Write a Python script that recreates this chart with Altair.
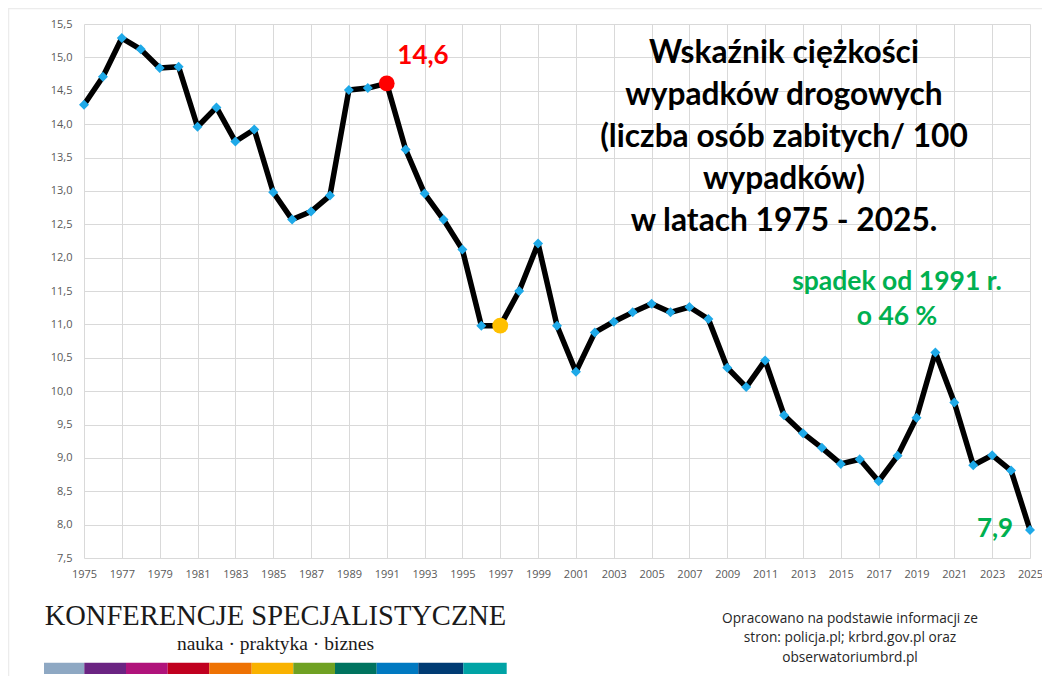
import altair as alt
import pandas as pd

years = list(range(1975, 2026))
values = [
    14.29, 14.71, 15.29, 15.12, 14.84, 14.86, 13.96, 14.25, 13.74, 13.92,
    12.98, 12.57, 12.69, 12.93, 14.51, 14.54, 14.61, 13.62, 12.96, 12.57,
    12.12, 10.98, 10.98, 11.50, 12.21, 10.98, 10.29, 10.88, 11.04, 11.18,
    11.31, 11.18, 11.26, 11.08, 10.35, 10.06, 10.46, 9.64, 9.37, 9.15,
    8.91, 8.98, 8.65, 9.03, 9.60, 10.58, 9.83, 8.89, 9.04, 8.81,
    7.92,
]
highlight_years = [1991, 1997]
highlight_colors = ["#ff0000", "#ffc000"]
x_ticks = list(range(1975, 2026, 2))
y_ticks = [7.5 + 0.5 * i for i in range(17)]

title_lines = [
    "Wskaźnik ciężkości",
    "wypadków drogowych",
    "(liczba osób zabitych/ 100",
    "wypadków)",
    "w latach 1975 - 2025.",
]
drop_lines = ["spadek od 1991 r.", "o 46 %"]
source_lines = [
    "Opracowano na podstawie informacji ze",
    "stron: policja.pl; krbrd.gov.pl oraz",
    "obserwatoriumbrd.pl",
]
logo_title = "KONFERENCJE SPECJALISTYCZNE"
logo_sub = "nauka · praktyka · biznes"
logo_colors = ["#8ea8c3", "#6b2482", "#b0137b", "#c0001f", "#ee7203",
               "#f9b200", "#6fa123", "#00735f", "#0079c1", "#003b73", "#00a3a5"]

df = pd.DataFrame({"year": years, "value": values})
hl = df[df["year"].isin(highlight_years)].copy()
hl["color"] = highlight_colors

W, H = 946, 534

xs = alt.X("year:Q",
           scale=alt.Scale(domain=[1975, 2025], nice=False, zero=False),
           axis=alt.Axis(values=x_ticks, title=None, format="d", grid=True,
                         gridColor="#d9d9d9", gridWidth=1, ticks=False, tickSize=0,
                         domain=False, labelColor="#595959", labelFont="Open Sans",
                         labelFontSize=11, labelPadding=10, labelFlush=False,
                         labelOverlap=False))
ys = alt.Y("value:Q",
           scale=alt.Scale(domain=[7.5, 15.5], nice=False, zero=False),
           axis=alt.Axis(values=y_ticks, title=None, grid=True,
                         gridColor="#d9d9d9", gridWidth=1, ticks=False, tickSize=0,
                         domain=False, labelColor="#595959", labelFont="Open Sans",
                         labelFontSize=11, labelPadding=12,
                         labelExpr="replace(format(datum.value, '.1f'), '.', ',')"))

base = alt.Chart(df)
line = base.mark_line(color="black", strokeWidth=5.5, strokeJoin="round").encode(x=xs, y=ys)
pts = base.mark_point(shape="diamond", filled=True, size=100, color="#1ea9e8", opacity=1).encode(x=xs, y=ys)
hpts = alt.Chart(hl).mark_point(shape="circle", filled=True, size=250, opacity=1).encode(
    x=xs, y=ys, color=alt.Color("color:N", scale=None))

one = pd.DataFrame({"a": [0]})


def txt(text, x, y, size, color="black", bold=True, font="Lato", align="center",
        lh=None, baseline="alphabetic"):
    kw = dict(text=text, fontSize=size, color=color, font=font, align=align,
              baseline=baseline, fontWeight="bold" if bold else "normal")
    if lh is not None:
        kw["lineHeight"] = lh
    return alt.Chart(one).mark_text(**kw).encode(x=alt.value(x), y=alt.value(y))


layers = [line, pts, hpts]
layers.append(txt(title_lines, 700, 39, 31.7, lh=42))
layers.append(txt("14,6", 339, 40, 26, color="#ff0000"))
layers.append(txt(drop_lines, 813, 266, 26.5, color="#00b050", lh=35))
layers.append(txt("7,9", 911, 513, 26, color="#00b050"))
layers.append(txt(logo_title, 191.5, 601, 28.5, font="Liberation Serif", bold=False, color="#1a1a1a"))
layers.append(txt(logo_sub, 191.5, 626, 19.5, font="Liberation Serif", bold=False, color="#1a1a1a"))
layers.append(txt(source_lines, 766, 599, 13.7, font="Open Sans", bold=False, color="#262626", lh=19.3))

# logo colour stripe
edges = [-40, 0.3, 42, 83.7, 125.3, 167.7, 209.3, 251, 292.7, 334.3, 379.3, 422.7]
for i, c in enumerate(logo_colors):
    layers.append(alt.Chart(one).mark_rect(color=c).encode(
        x=alt.value(edges[i]), x2=alt.value(edges[i + 1]),
        y=alt.value(638.7), y2=alt.value(650)))

# faint outer frame
layers.append(alt.Chart(one).mark_rule(color="#ececec", strokeWidth=1.5).encode(
    x=alt.value(-76), x2=alt.value(W + 12), y=alt.value(-15.5)))
layers.append(alt.Chart(one).mark_rule(color="#ececec", strokeWidth=1.5).encode(
    x=alt.value(-75.5), y=alt.value(-16), y2=alt.value(H + 118)))

chart = alt.layer(*layers).properties(
    width=W, height=H,
    padding={"left": 76, "top": 16, "right": 12, "bottom": 120},
    autosize=alt.AutoSizeParams(type="none"),
    background="white",
).configure_view(stroke=None)

chart.save("out.html", embed_options={"renderer": "svg", "actions": False})
